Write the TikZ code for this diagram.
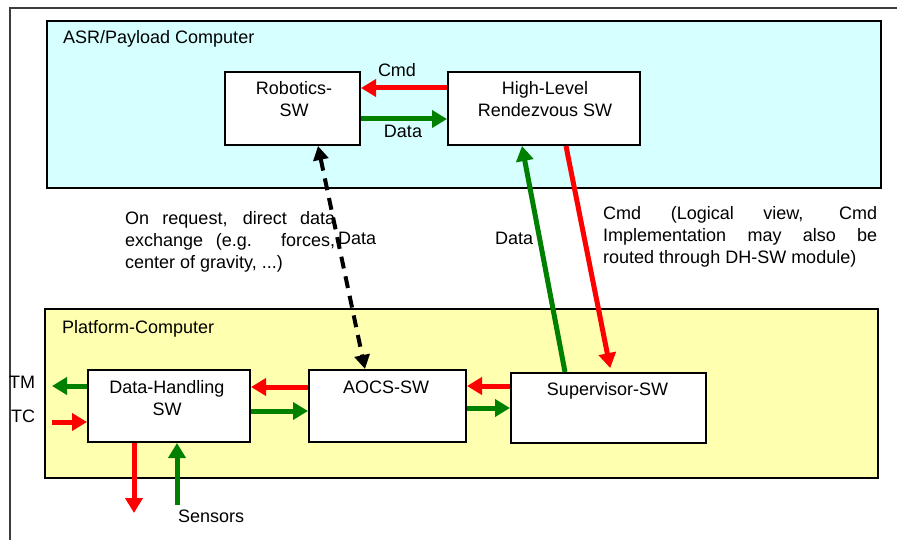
\documentclass[tikz,border=0pt]{standalone}
\usepackage{fontspec}
\setmainfont{Liberation Sans}
\usetikzlibrary{arrows.meta}
\definecolor{cyanfill}{RGB}{214,255,255}
\definecolor{yellowfill}{RGB}{255,255,176}
\definecolor{myred}{RGB}{255,0,0}
\definecolor{mygreen}{RGB}{0,128,0}
\definecolor{framegray}{RGB}{60,60,60}
\hyphenpenalty=10000
\exhyphenpenalty=10000
\tolerance=10000
\begin{document}
\begin{tikzpicture}[x=1pt,y=-1pt,
  txt/.style={font=\fontsize{18}{22}\selectfont, inner sep=0pt},
  para/.style={txt, align=justify, anchor=base west},
  area/.style={draw=black, line width=2pt, inner sep=0pt},
  swbox/.style={draw=black, line width=2pt, fill=white, inner sep=0pt},
  flow/.style={line width=5pt, -{Triangle[length=15pt,width=17pt]}},
  redflow/.style={flow, draw=myred},
  greenflow/.style={flow, draw=mygreen},
  dashflow/.style={line width=4pt, draw=black, dash pattern=on 12pt off 8pt,
    {Triangle[length=14pt,width=15pt]}-{Triangle[length=14pt,width=15pt]}}
]
\useasboundingbox (0,0) rectangle (897,540);
% outer frame
\draw[framegray, line width=1.5pt] (10,540) -- (10,8) -- (897,8);
% containers
\node[area, fill=cyanfill, minimum width=834pt, minimum height=167pt] (asr) at (464,104.5) {};
\node[area, fill=yellowfill, minimum width=833pt, minimum height=169pt] (plat) at (461.5,393.5) {};
\node[txt, anchor=base west] (asrt) at (63,44) {ASR/Payload Computer};
\node[txt, anchor=base west] (platt) at (62,333) {Platform-Computer};
% software boxes
\node[swbox, minimum width=135pt, minimum height=73pt] (rob) at (292.5,108.5) {};
\node[swbox, minimum width=192pt, minimum height=73pt] (hl) at (544,108.5) {};
\node[swbox, minimum width=162pt, minimum height=72pt] (dh) at (169,406) {};
\node[swbox, minimum width=157pt, minimum height=72pt] (aocs) at (387.5,406) {};
\node[swbox, minimum width=195pt, minimum height=70pt] (sup) at (608.5,408) {};
% box texts
\node[txt, anchor=base] (robt1) at (294,95) {Robotics-};
\node[txt, anchor=base] (robt2) at (294,117) {SW};
\node[txt, anchor=base] (hlt1) at (545,95) {High-Level};
\node[txt, anchor=base] (hlt2) at (545,117) {Rendezvous SW};
\node[txt, anchor=base] (dht1) at (167,393) {Data-Handling};
\node[txt, anchor=base] (dht2) at (167,415) {SW};
\node[txt, anchor=base] (aocst) at (386,393) {AOCS-SW};
\node[txt, anchor=base] (supt) at (607.5,395) {Supervisor-SW};
% labels
\node[txt, anchor=base] (cmd1) at (397,77) {Cmd};
\node[txt, anchor=base] (data1) at (403,138) {Data};
\node[para, text width=210pt] (req) at (125,225)
  {On request, direct data exchange (e.g. forces, center of gravity, ...)};
\node[txt, anchor=base west] (data2) at (338,245) {Data};
\node[txt, anchor=base west] (data3) at (495,244) {Data};
\node[para, text width=274pt] (cmdp) at (603,220)
  {Cmd (Logical view, Cmd Implementation may also be routed through DH-SW module)};
\node[txt, anchor=base west] (tm) at (9,388) {TM};
\node[txt, anchor=base west] (tc) at (11,422) {TC};
\node[txt, anchor=base west] (sens) at (178,522) {Sensors};
% free ends
\coordinate (tmend) at (52,386);
\coordinate (tcstart) at (52,422);
\coordinate (outend) at (134,513);
\coordinate (sensstart) at (177,505);
% connectors
\draw[redflow] (hl.west |- 0,88) -- (rob.east |- 0,88);
\draw[greenflow] (rob.east |- 0,119) -- (hl.west |- 0,119);
\draw[redflow] (aocs.west |- 0,387) -- (dh.east |- 0,387);
\draw[greenflow] (dh.east |- 0,411) -- (aocs.west |- 0,411);
\draw[redflow] (sup.west |- 0,386) -- (aocs.east |- 0,386);
\draw[greenflow] (aocs.east |- 0,408) -- (sup.west |- 0,408);
\draw[greenflow] (dh.west |- 0,386) -- (tmend);
\draw[redflow] (tcstart) -- (dh.west |- 0,422);
\draw[redflow] (dh.south -| 134,0) -- (outend);
\draw[greenflow] (sensstart) -- (dh.south -| 177,0);
\draw[greenflow] (sup.north -| 565,0) -- (hl.south -| 522,0);
\draw[redflow, shorten >=4pt] (hl.south -| 566,0) -- (sup.north -| 611,0);
\draw[dashflow] (rob.south -| 318,0) -- (aocs.north -| 365,0);
\end{tikzpicture}
\end{document}
